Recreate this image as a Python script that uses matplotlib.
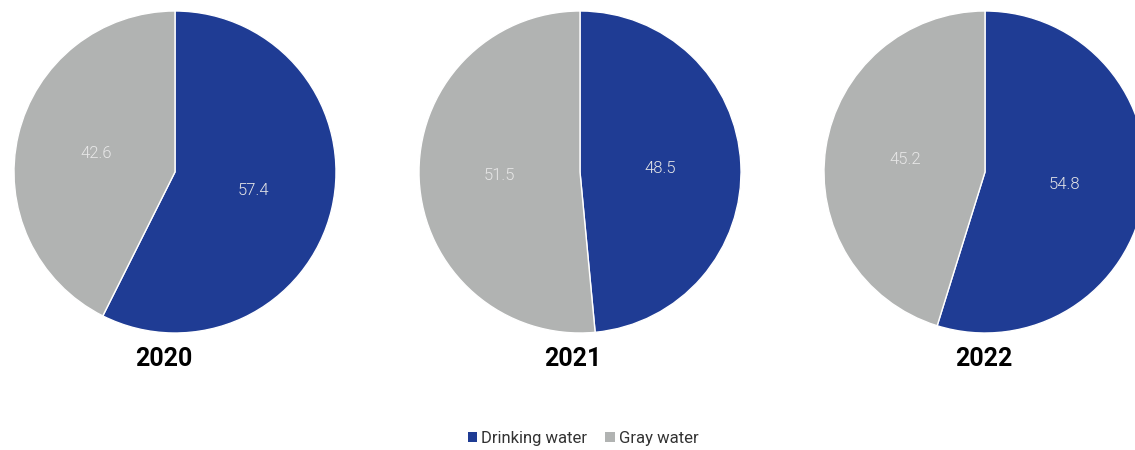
import matplotlib.pyplot as plt
from matplotlib.patches import Patch

plt.rcParams['font.family'] = ['Roboto', 'DejaVu Sans']

years = ['2020', '2021', '2022']
drinking = [57.4, 48.5, 54.8]
gray = [42.6, 51.5, 45.2]
series = ['Drinking water', 'Gray water']
colors = ['#1f3c94', '#b1b3b2']

W, H = 1135, 450
fig = plt.figure(figsize=(W / 100, H / 100), dpi=100)

# pie centres in pixels, radius 161 px; titles sit slightly left of centre
centers = [175, 580, 985]
title_x = [163.5, 573, 984]
cy, r = 172, 161

for yr, d, g, cx, tx in zip(years, drinking, gray, centers, title_x):
    ax = fig.add_axes([(cx - r) / W, (H - cy - r) / H, 2 * r / W, 2 * r / H])
    ax.pie([d, g], colors=colors, startangle=90, counterclock=False,
           labels=[f'{d:.1f}', f'{g:.1f}'], labeldistance=0.5,
           wedgeprops=dict(edgecolor='white', linewidth=1),
           textprops=dict(color='#e8e8e8', fontsize=12, fontweight=300,
                          ha='center', va='center'))
    ax.set_xlim(-1, 1)
    ax.set_ylim(-1, 1)
    ax.set_aspect('equal')
    fig.text(tx / W, 1 - 359 / H, yr, ha='center', va='center',
             fontsize=18, fontweight='bold', color='black')

handles = [Patch(facecolor=c, edgecolor='none') for c in colors]
fig.legend(handles, series, loc='center', bbox_to_anchor=(583 / W, 1 - 438 / H),
           ncol=2, frameon=False, fontsize=12, handlelength=0.55, handleheight=0.55,
           handletextpad=0.25, columnspacing=1.1, labelcolor='#333333')

fig.savefig('out.png', dpi=100)
